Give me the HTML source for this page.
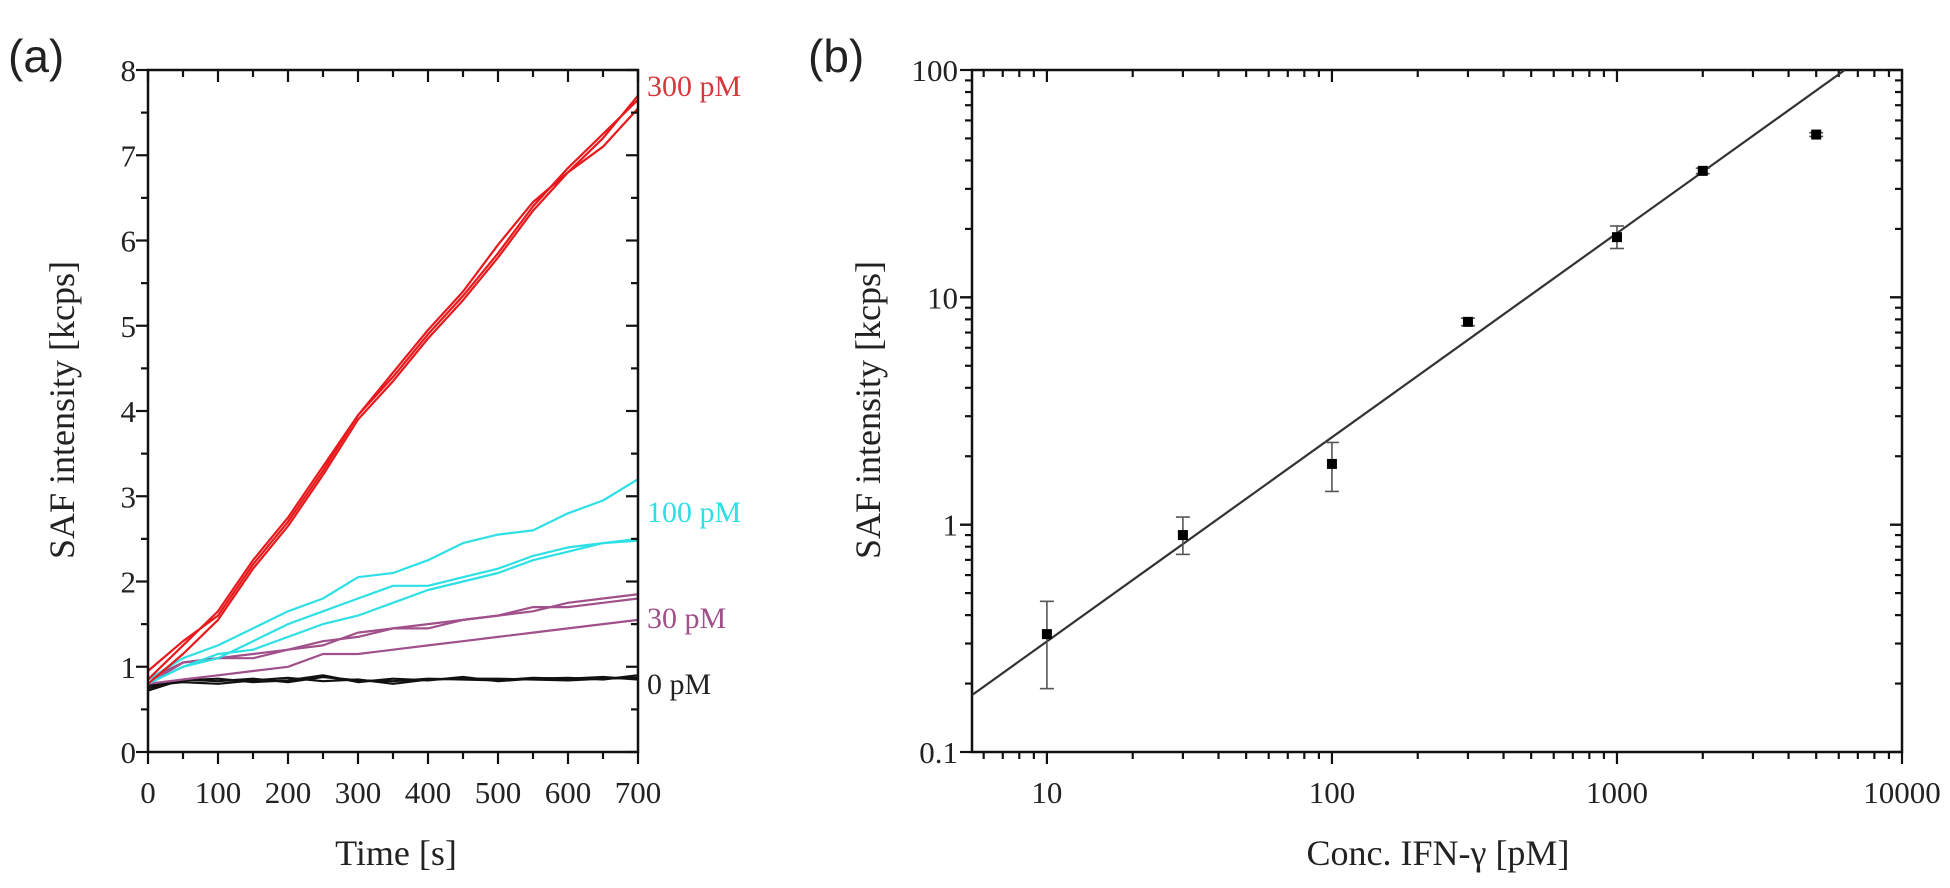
<!DOCTYPE html>
<html><head><meta charset="utf-8"><style>
html,body{margin:0;padding:0;background:#fff;}
svg{display:block;}
text{font-family:"Liberation Serif",serif;fill:#222;}
.sans{font-family:"Liberation Sans",sans-serif;}
</style></head><body>
<svg id="fig" width="1950" height="888" viewBox="0 0 1950 888" xmlns="http://www.w3.org/2000/svg">
<g id="pa"></g>
<g id="pb"></g>
</svg>
<script>
// ---- Panel (a) data ----
const timesA = [0,50,100,150,200,250,300,350,400,450,500,550,600,650,700];
const red1 = [0.85,1.25,1.65,2.25,2.75,3.35,3.95,4.4,4.9,5.35,5.85,6.4,6.85,7.25,7.65];
const red2 = [0.95,1.3,1.6,2.2,2.7,3.3,3.95,4.45,4.95,5.4,5.95,6.45,6.8,7.2,7.7];
const red3 = [0.8,1.15,1.55,2.15,2.65,3.25,3.9,4.35,4.85,5.3,5.8,6.35,6.8,7.1,7.55];
const cyan1 = [0.85,1.1,1.25,1.45,1.65,1.8,2.05,2.1,2.25,2.45,2.55,2.6,2.8,2.95,3.2];
const cyan2 = [0.8,1.0,1.1,1.3,1.5,1.65,1.8,1.95,1.95,2.05,2.15,2.3,2.4,2.45,2.5];
const cyan3 = [0.8,1.0,1.15,1.2,1.35,1.5,1.6,1.75,1.9,2.0,2.1,2.25,2.35,2.45,2.48];
const purp1 = [0.8,1.05,1.1,1.15,1.2,1.3,1.35,1.45,1.5,1.55,1.6,1.65,1.75,1.8,1.85];
const purp2 = [0.85,1.05,1.1,1.1,1.2,1.25,1.4,1.45,1.45,1.55,1.6,1.7,1.7,1.75,1.8];
const purp3 = [0.8,0.85,0.9,0.95,1.0,1.15,1.15,1.2,1.25,1.3,1.35,1.4,1.45,1.5,1.55];
const blk1 = [0.72,0.85,0.83,0.86,0.82,0.88,0.84,0.83,0.86,0.85,0.84,0.87,0.86,0.88,0.85];
const blk2 = [0.78,0.82,0.8,0.84,0.87,0.83,0.85,0.8,0.85,0.86,0.86,0.85,0.84,0.86,0.87];
const blk3 = [0.75,0.84,0.86,0.82,0.84,0.9,0.82,0.86,0.84,0.88,0.83,0.86,0.87,0.85,0.9];
const xTicksA = [0,100,200,300,400,500,600,700];
const yTicksA = [0,1,2,3,4,5,6,7,8];
// ---- Panel (b) data ----
const concB = [10,30,100,300,1000,2000,5000];
const safB = [0.33,0.9,1.85,7.8,18.4,36,52];
const errLoB = [0.19,0.74,1.4,7.5,16.4,35,51];
const errHiB = [0.46,1.08,2.3,8.1,20.6,37,53];
const fitX = [5.46,6300];
const fitY = [0.178,100];
const xTicksB = [10,100,1000,10000];
const yTicksB = [0.1,1,10,100];

const NS="http://www.w3.org/2000/svg";
function mk(parent,tag,attrs,txt){const e=document.createElementNS(NS,tag);for(const k in attrs)e.setAttribute(k,attrs[k]);if(txt!==undefined)e.textContent=txt;parent.appendChild(e);return e;}

// ---- Panel A ----
const A=document.getElementById('pa');
const ax={l:148,r:638,t:70,b:752};
const xA=t=>ax.l+(t/700)*(ax.r-ax.l);
const yA=v=>ax.b-(v/8)*(ax.b-ax.t);
const lblA=mk(A,'text',{x:8,y:72,'font-size':46,class:'sans'},'(a)');


function series(arr,color,name){
  const d=arr.map((v,i)=>(i?'L':'M')+xA(timesA[i]).toFixed(1)+','+yA(v).toFixed(1)).join(' ');
  const p=mk(A,'path',{d:d,fill:'none',stroke:color,'stroke-width':2.2,'stroke-linejoin':'round'});
  
  
}
series(blk1,'#111','line-0pm-1');series(blk2,'#111','line-0pm-2');series(blk3,'#111','line-0pm-3');
series(purp1,'#a0508a','line-30pm-1');series(purp2,'#a0508a','line-30pm-2');series(purp3,'#a0508a','line-30pm-3');
series(cyan1,'#2ee0e6','line-100pm-1');series(cyan2,'#2ee0e6','line-100pm-2');series(cyan3,'#2ee0e6','line-100pm-3');
series(red1,'#e8191c','line-300pm-1');series(red2,'#e8191c','line-300pm-2');series(red3,'#e8191c','line-300pm-3');
const frA=mk(A,'rect',{x:ax.l,y:ax.t,width:ax.r-ax.l,height:ax.b-ax.t,fill:'none',stroke:'#111','stroke-width':2.5});


for(let t=0;t<=700;t+=50){
  const maj=t%100===0, L=maj?12:7;
  mk(A,'line',{x1:xA(t),x2:xA(t),y1:ax.b,y2:ax.b+L,stroke:'#111','stroke-width':2.2});
  mk(A,'line',{x1:xA(t),x2:xA(t),y1:ax.t,y2:ax.t+L,stroke:'#111','stroke-width':2.2});
}
for(let v=0;v<=8;v+=0.5){
  const maj=v%1===0, L=maj?12:7;
  mk(A,'line',{x1:ax.l-L,x2:ax.l,y1:yA(v),y2:yA(v),stroke:'#111','stroke-width':2.2});
  mk(A,'line',{x1:ax.r-L,x2:ax.r,y1:yA(v),y2:yA(v),stroke:'#111','stroke-width':2.2});
}
xTicksA.forEach(t=>{const e=mk(A,'text',{x:xA(t),y:803,'font-size':31,'text-anchor':'middle'},String(t));
  
  });
yTicksA.forEach(v=>{const e=mk(A,'text',{x:136,y:yA(v)+11,'font-size':31,'text-anchor':'end'},String(v));
  
  });
const xtA=mk(A,'text',{x:396,y:865,'font-size':36,'text-anchor':'middle'},'Time [s]');


const ytA=mk(A,'text',{x:0,y:0,'font-size':36,'text-anchor':'middle',transform:'translate(74,410) rotate(-90)'},'SAF intensity  [kcps]');


[['300 pM','#d8383b',96,'label-300pm'],['100 pM','#2ee0e6',522,'label-100pm'],['30 pM','#a0508a',628,'label-30pm'],['0 pM','#222',694,'label-0pm']].forEach(s=>{
  const e=mk(A,'text',{x:647,y:s[2],'font-size':30,style:'fill:'+s[1]},s[0]);
  
  
});

// ---- Panel B ----
const B=document.getElementById('pb');
const bx={l:972,r:1902,t:70,b:752};
const lxMin=Math.log10(5.46), lxMax=4;
const xB=c=>bx.l+(Math.log10(c)-lxMin)/(lxMax-lxMin)*(bx.r-bx.l);
const yB=v=>bx.b-(Math.log10(v)+1)/3*(bx.b-bx.t);
const lblB=mk(B,'text',{x:808,y:72,'font-size':46,class:'sans'},'(b)');


const frB=mk(B,'rect',{x:bx.l,y:bx.t,width:bx.r-bx.l,height:bx.b-bx.t,fill:'none',stroke:'#111','stroke-width':2.5});


for(let d=0;d<=3;d++){for(let m=1;m<=9;m++){const c=m*Math.pow(10,d);if(c<5.46)continue;
  const L=m===1?12:7;
  mk(B,'line',{x1:xB(c),x2:xB(c),y1:bx.b,y2:bx.b+L,stroke:'#111','stroke-width':2.2});
  mk(B,'line',{x1:xB(c),x2:xB(c),y1:bx.t,y2:bx.t+L,stroke:'#111','stroke-width':2.2});}}
mk(B,'line',{x1:bx.r,x2:bx.r,y1:bx.b,y2:bx.b+12,stroke:'#111','stroke-width':2.2});
for(let d=-1;d<=1;d++){for(let m=1;m<=10;m++){const v=m*Math.pow(10,d);
  const L=(m===1||m===10)?12:7;
  mk(B,'line',{x1:bx.l-L,x2:bx.l,y1:yB(v),y2:yB(v),stroke:'#111','stroke-width':2.2});
  mk(B,'line',{x1:bx.r-L,x2:bx.r,y1:yB(v),y2:yB(v),stroke:'#111','stroke-width':2.2});}}
xTicksB.forEach(c=>{const e=mk(B,'text',{x:xB(c),y:803,'font-size':31,'text-anchor':'middle'},String(c));
  
  });
yTicksB.forEach(v=>{const e=mk(B,'text',{x:958,y:yB(v)+11,'font-size':31,'text-anchor':'end'},String(v));
  
  });
const xtB=mk(B,'text',{x:1438,y:865,'font-size':36,'text-anchor':'middle'},'Conc. IFN-γ [pM]');


const ytB=mk(B,'text',{x:0,y:0,'font-size':36,'text-anchor':'middle',transform:'translate(880,410) rotate(-90)'},'SAF intensity [kcps]');


const clip=mk(B,'clipPath',{id:'cb'});mk(clip,'rect',{x:bx.l,y:bx.t,width:bx.r-bx.l,height:bx.b-bx.t});
const fit=mk(B,'line',{x1:xB(fitX[0]),y1:yB(fitY[0]),x2:xB(fitX[1]),y2:yB(fitY[1]),stroke:'#333','stroke-width':2.2,'clip-path':'url(#cb)'});


concB.forEach((c,i)=>{
  const x=xB(c);
  const g=mk(B,'g',{});
  
  
  mk(g,'line',{x1:x,x2:x,y1:yB(errLoB[i]),y2:yB(errHiB[i]),stroke:'#555','stroke-width':1.6});
  mk(g,'line',{x1:x-7,x2:x+7,y1:yB(errLoB[i]),y2:yB(errLoB[i]),stroke:'#555','stroke-width':1.6});
  mk(g,'line',{x1:x-7,x2:x+7,y1:yB(errHiB[i]),y2:yB(errHiB[i]),stroke:'#555','stroke-width':1.6});
  mk(g,'rect',{x:x-5,y:yB(safB[i])-5,width:10,height:10,fill:'#000'});
});
</script>
</body></html>
